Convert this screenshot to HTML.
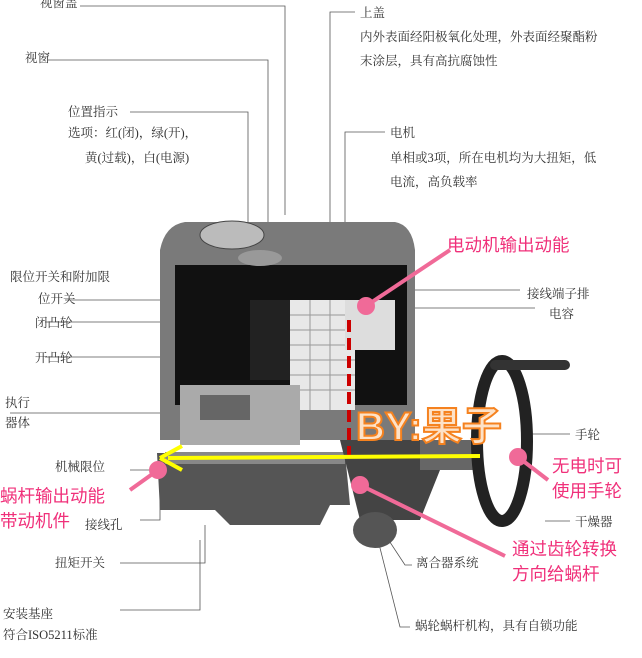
<!DOCTYPE html>
<html><head><meta charset="utf-8"><style>
body{margin:0;width:642px;height:658px;background:#fff;position:relative;overflow:hidden;font-family:"Liberation Serif","Noto Serif CJK SC",serif}
.t{position:absolute;font-size:12.5px;color:#333;white-space:nowrap;line-height:1}
.p{position:absolute;font-family:"Liberation Sans","Noto Sans CJK SC",sans-serif;font-size:17.5px;color:#f0307a;white-space:nowrap;line-height:1}
svg{position:absolute;left:0;top:0}
</style></head><body>
<svg width="642" height="658">
<g stroke="#555" stroke-width="0.8" fill="none">
<path d="M80 6H285V215"/><path d="M48 60H268V225"/><path d="M130 112H248V255"/>
<path d="M355 12H330V225"/><path d="M385 132H345V225"/>
<path d="M45 322H200"/><path d="M45 357H215"/><path d="M10 413H165"/><path d="M65 300H190"/>
<path d="M410 290H520"/><path d="M405 308H535"/><path d="M525 434H570"/>
<path d="M130 470H160"/><path d="M140 520H160V500"/><path d="M545 521H570"/>
<path d="M120 563H205V525"/><path d="M380 527L405 565H412"/><path d="M200 540V610H120"/><path d="M378 540L400 627H410"/>
</g>
<path d="M160 250Q165 225 185 222L395 222Q412 225 415 250V440H160Z" fill="#7a7a7a"/>
<rect x="175" y="265" width="232" height="140" fill="#111"/>
<ellipse cx="232" cy="235" rx="32" ry="14" fill="#bbb" stroke="#444"/>
<ellipse cx="260" cy="258" rx="22" ry="8" fill="#999"/>
<rect x="250" y="300" width="45" height="80" fill="#222"/>
<rect x="290" y="300" width="65" height="110" fill="#e8e8e8"/>
<g stroke="#999" stroke-width="1"><path d="M290 315H355M290 330H355M290 345H355M290 360H355M290 375H355M290 390H355M310 300V410M330 300V410"/></g>
<rect x="345" y="300" width="50" height="50" fill="#ddd"/>
<rect x="180" y="385" width="120" height="60" fill="#aaa"/>
<rect x="200" y="395" width="50" height="25" fill="#666"/>
<path d="M157 453H345L350 505H330L320 525H230L215 510H160Z" fill="#555"/>
<rect x="165" y="452" width="180" height="12" fill="#888"/>
<path d="M340 440H420L440 470L420 520H360Z" fill="#444"/>
<ellipse cx="375" cy="530" rx="22" ry="18" fill="#555"/>
<rect x="420" y="440" width="60" height="30" fill="#666"/>
<ellipse cx="502" cy="441" rx="25" ry="80" fill="none" stroke="#222" stroke-width="12"/>
<path d="M495 365H565" stroke="#333" stroke-width="10" stroke-linecap="round"/>
<line x1="349" y1="320" x2="349" y2="460" stroke="#c00" stroke-width="4" stroke-dasharray="12 6"/>
<line x1="480" y1="456" x2="168" y2="458" stroke="#ff0" stroke-width="4"/>
<path d="M160 458L182 446M160 458L182 470" stroke="#ff0" stroke-width="4"/>
<g stroke="#f06a98" stroke-width="4" fill="#f06a98">
<line x1="366" y1="306" x2="450" y2="250"/><circle cx="366" cy="306" r="7"/>
<line x1="360" y1="485" x2="505" y2="556"/><circle cx="360" cy="485" r="7"/>
<line x1="518" y1="457" x2="548" y2="480"/><circle cx="518" cy="457" r="7"/>
<line x1="158" y1="470" x2="130" y2="490"/><circle cx="158" cy="470" r="7"/>
</g>
<text x="356" y="440" font-family="Liberation Sans,Noto Sans CJK SC,sans-serif" font-size="40" font-weight="bold" fill="#fde2c8" stroke="#f5821f" stroke-width="2">BY:果子</text>
</svg>
<div class="t" style="left:40px;top:-3px">视窗盖</div>
<div class="t" style="left:25px;top:52px">视窗</div>
<div class="t" style="left:68px;top:106px">位置指示</div>
<div class="t" style="left:68px;top:127px">选项：红(闭)，绿(开)，</div>
<div class="t" style="left:85px;top:152px">黄(过载)，白(电源)</div>
<div class="t" style="left:360px;top:7px">上盖</div>
<div class="t" style="left:360px;top:31px">内外表面经阳极氧化处理，外表面经聚酯粉</div>
<div class="t" style="left:360px;top:55px">末涂层，具有高抗腐蚀性</div>
<div class="t" style="left:390px;top:127px">电机</div>
<div class="t" style="left:390px;top:152px">单相或3项，所在电机均为大扭矩，低</div>
<div class="t" style="left:390px;top:176px">电流，高负载率</div>
<div class="t" style="left:10px;top:271px">限位开关和附加限</div>
<div class="t" style="left:38px;top:293px">位开关</div>
<div class="t" style="left:35px;top:317px">闭凸轮</div>
<div class="t" style="left:35px;top:352px">开凸轮</div>
<div class="t" style="left:5px;top:397px">执行</div>
<div class="t" style="left:5px;top:417px">器体</div>
<div class="t" style="left:527px;top:288px">接线端子排</div>
<div class="t" style="left:549px;top:308px">电容</div>
<div class="t" style="left:575px;top:429px">手轮</div>
<div class="t" style="left:55px;top:461px">机械限位</div>
<div class="t" style="left:85px;top:519px">接线孔</div>
<div class="t" style="left:575px;top:516px">干燥器</div>
<div class="t" style="left:55px;top:557px">扭矩开关</div>
<div class="t" style="left:416px;top:557px">离合器系统</div>
<div class="t" style="left:3px;top:608px">安装基座</div>
<div class="t" style="left:3px;top:629px">符合ISO5211标准</div>
<div class="t" style="left:415px;top:620px">蜗轮蜗杆机构，具有自锁功能</div>
<div class="p" style="left:447px;top:237px">电动机输出动能</div>
<div class="p" style="left:0px;top:488px">蜗杆输出动能</div>
<div class="p" style="left:0px;top:513px">带动机件</div>
<div class="p" style="left:552px;top:458px">无电时可</div>
<div class="p" style="left:552px;top:483px">使用手轮</div>
<div class="p" style="left:512px;top:541px">通过齿轮转换</div>
<div class="p" style="left:512px;top:566px">方向给蜗杆</div>
</body></html>
